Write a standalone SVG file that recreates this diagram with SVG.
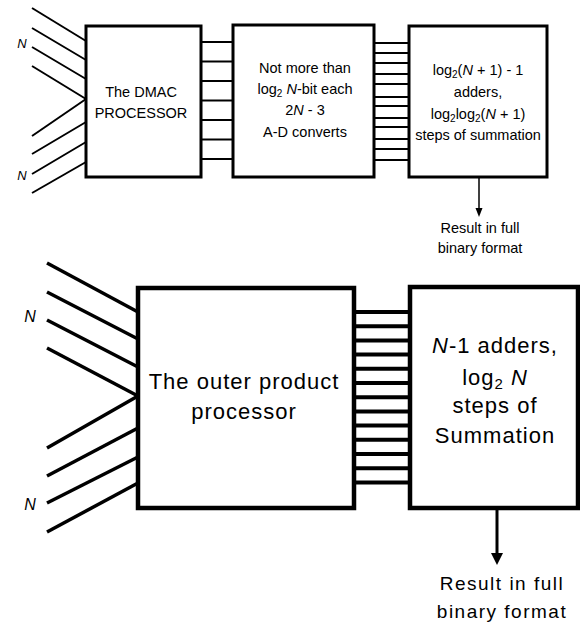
<svg xmlns="http://www.w3.org/2000/svg" width="580" height="622" viewBox="0 0 580 622">
<style>
.bg{fill:#fff}
.box1{fill:#fff;stroke:#000;stroke-width:3}
.box2{fill:#fff;stroke:#000;stroke-width:4.5}
.w1{stroke:#000;stroke-width:2;fill:none}
.w2{stroke:#000;stroke-width:3.5;fill:none}
.bus2{stroke:#000;stroke-width:4;fill:none}
.t1{font-family:"Liberation Sans",Arial,sans-serif;font-size:14.5px;fill:#000;text-anchor:middle}
.t2{font-family:"Liberation Sans",Arial,sans-serif;font-size:22px;letter-spacing:1px;fill:#000;text-anchor:middle}
.t3{font-family:"Liberation Sans",Arial,sans-serif;font-size:19px;letter-spacing:1.5px;fill:#000;text-anchor:middle}
.nl1{font-family:"Liberation Sans",Arial,sans-serif;font-size:13px;font-style:italic;fill:#000;text-anchor:middle}
.nl2{font-family:"Liberation Sans",Arial,sans-serif;font-size:16px;font-style:italic;fill:#000;text-anchor:middle}
.i{font-style:italic}
</style>
<rect class="bg" x="0" y="0" width="580" height="622"/>

<g id="connectors">
  <!-- top inputs -->
  <g class="w1">
    <line x1="32" y1="8" x2="86" y2="41"/>
    <line x1="32" y1="28" x2="86" y2="60"/>
    <line x1="32" y1="47" x2="86" y2="79"/>
    <line x1="32" y1="66" x2="86" y2="99"/>
    <line x1="86" y1="99" x2="32" y2="136"/>
    <line x1="86" y1="122" x2="32" y2="154"/>
    <line x1="86" y1="142" x2="32" y2="174"/>
    <line x1="86" y1="162" x2="32" y2="193"/>
    <!-- box1 to box2 -->
    <line x1="201" y1="42" x2="233" y2="42"/>
    <line x1="201" y1="61.5" x2="233" y2="61.5"/>
    <line x1="201" y1="81" x2="233" y2="81"/>
    <line x1="201" y1="100.5" x2="233" y2="100.5"/>
    <line x1="201" y1="120" x2="233" y2="120"/>
    <line x1="201" y1="139.5" x2="233" y2="139.5"/>
    <line x1="201" y1="159" x2="233" y2="159"/>
    <!-- box2 to box3 -->
    <line x1="374" y1="43" x2="409" y2="43"/>
    <line x1="374" y1="53" x2="409" y2="53"/>
    <line x1="374" y1="63" x2="409" y2="63"/>
    <line x1="374" y1="74" x2="409" y2="74"/>
    <line x1="374" y1="84" x2="409" y2="84"/>
    <line x1="374" y1="97" x2="409" y2="97"/>
    <line x1="374" y1="106" x2="409" y2="106"/>
    <line x1="374" y1="118" x2="409" y2="118"/>
    <line x1="374" y1="127" x2="409" y2="127"/>
    <line x1="374" y1="139" x2="409" y2="139"/>
    <line x1="374" y1="149" x2="409" y2="149"/>
    <line x1="374" y1="160" x2="409" y2="160"/>
  </g>
  <line x1="479" y1="177" x2="479" y2="210" stroke="#000" stroke-width="1.5"/>
  <polygon points="475.5,208 482.5,208 479,217" fill="#000"/>

  <!-- bottom inputs -->
  <g class="w2">
    <line x1="47" y1="263" x2="138" y2="312"/>
    <line x1="47" y1="292" x2="138" y2="339"/>
    <line x1="47" y1="320" x2="138" y2="367"/>
    <line x1="47" y1="348" x2="138" y2="396"/>
    <line x1="138" y1="396" x2="47" y2="448"/>
    <line x1="138" y1="428" x2="47" y2="476"/>
    <line x1="138" y1="457" x2="47" y2="503"/>
    <line x1="138" y1="483" x2="47" y2="532"/>
  </g>
  <g class="bus2">
    <line x1="354" y1="312" x2="410" y2="312"/>
    <line x1="354" y1="326.2" x2="410" y2="326.2"/>
    <line x1="354" y1="340.4" x2="410" y2="340.4"/>
    <line x1="354" y1="354.6" x2="410" y2="354.6"/>
    <line x1="354" y1="368.8" x2="410" y2="368.8"/>
    <line x1="354" y1="383" x2="410" y2="383"/>
    <line x1="354" y1="397.2" x2="410" y2="397.2"/>
    <line x1="354" y1="411.4" x2="410" y2="411.4"/>
    <line x1="354" y1="425.6" x2="410" y2="425.6"/>
    <line x1="354" y1="439.8" x2="410" y2="439.8"/>
    <line x1="354" y1="454" x2="410" y2="454"/>
    <line x1="354" y1="468.2" x2="410" y2="468.2"/>
    <line x1="354" y1="482.4" x2="410" y2="482.4"/>
  </g>
  <line x1="497" y1="508" x2="497" y2="556" stroke="#000" stroke-width="3"/>
  <polygon points="491,553 503,553 497,565" fill="#000"/>
</g>

<g id="labels-n">
  <text class="nl1" x="22" y="48">N</text>
  <text class="nl1" x="22" y="180">N</text>
  <text class="nl2" x="30" y="322">N</text>
  <text class="nl2" x="30" y="510">N</text>
</g>

<g id="dmac">
  <rect class="box1" x="86" y="26" width="115" height="151"/>
  <text class="t1" x="141" y="97">The DMAC</text>
  <text class="t1" x="141" y="118">PROCESSOR</text>
</g>

<g id="adc">
  <rect class="box1" x="233" y="25" width="141" height="152"/>
  <text class="t1" x="305" y="73">Not more than</text>
  <text class="t1" x="305" y="94">log<tspan font-size="10" dy="3">2</tspan><tspan dy="-3"> </tspan><tspan class="i">N</tspan>-bit each</text>
  <text class="t1" x="305" y="115">2<tspan class="i">N</tspan> - 3</text>
  <text class="t1" x="305" y="137">A-D converts</text>
</g>

<g id="adders1">
  <rect class="box1" x="409" y="26" width="138" height="151"/>
  <text class="t1" x="478" y="75">log<tspan font-size="10" dy="3">2</tspan><tspan dy="-3">(</tspan><tspan class="i">N</tspan> + 1) - 1</text>
  <text class="t1" x="478" y="97">adders,</text>
  <text class="t1" x="478" y="119">log<tspan font-size="10" dy="3">2</tspan><tspan dy="-3">log</tspan><tspan font-size="10" dy="3">2</tspan><tspan dy="-3">(</tspan><tspan class="i">N</tspan> + 1)</text>
  <text class="t1" x="478" y="140">steps of summation</text>
</g>

<g id="result1">
  <text class="t1" x="480" y="233">Result in full</text>
  <text class="t1" x="480" y="253">binary format</text>
</g>

<g id="outer">
  <rect class="box2" x="138" y="288" width="216" height="220"/>
  <text class="t2" x="244" y="389">The outer product</text>
  <text class="t2" x="244" y="419">processor</text>
</g>

<g id="adders2">
  <rect class="box2" x="410" y="287" width="168" height="221"/>
  <text class="t2" x="495" y="353"><tspan class="i">N</tspan>-1 adders,</text>
  <text class="t2" x="495" y="385">log<tspan font-size="15" dy="4">2</tspan><tspan dy="-4"> </tspan><tspan class="i">N</tspan></text>
  <text class="t2" x="495" y="413">steps of</text>
  <text class="t2" x="495" y="443">Summation</text>
</g>

<g id="result2">
  <text class="t3" x="502" y="590">Result in full</text>
  <text class="t3" x="502" y="618">binary format</text>
</g>
</svg>
